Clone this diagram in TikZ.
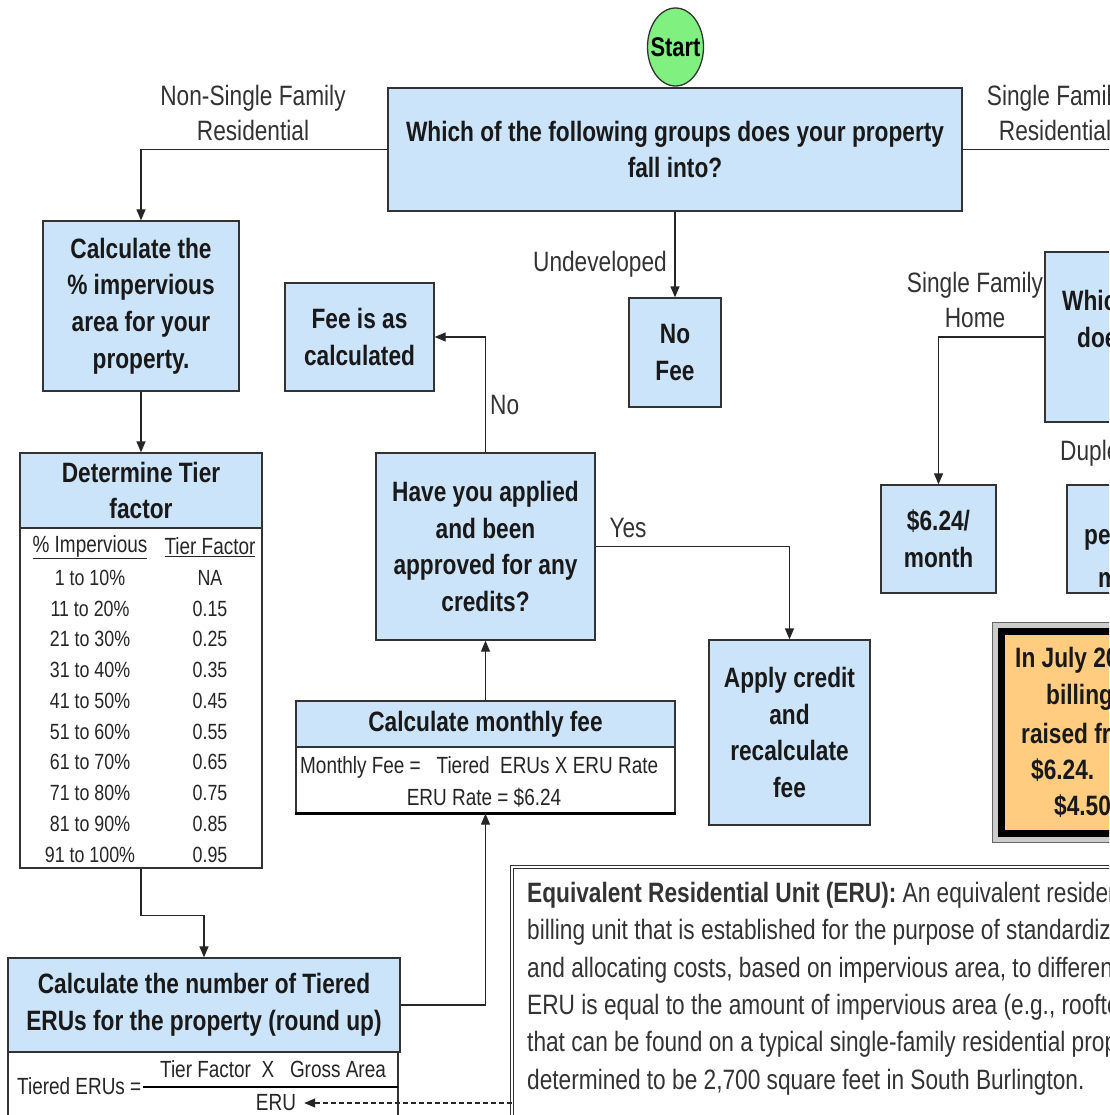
\documentclass[tikz,border=0pt]{standalone}
\usepackage{fontspec}
\setmainfont[FakeStretch=0.81]{Liberation Sans}
\usetikzlibrary{arrows.meta,shapes.geometric}
\definecolor{boxblue}{HTML}{CCE4FA}
\definecolor{startgreen}{HTML}{80F080}
\definecolor{noteorange}{HTML}{FFCC80}
\tikzset{
  box/.style={draw=black!80,line width=1.3pt,fill=boxblue,align=center,inner sep=0pt,
    font=\bfseries\fontsize{28}{36.7}\selectfont,text=black!90},
  sheet/.style={draw=black!80,line width=1.3pt,fill=white,inner sep=0pt},
  btxt/.style={font=\bfseries\fontsize{28}{36.7}\selectfont,text=black!90,inner sep=0pt,anchor=west},
  lbl/.style={font=\fontsize{28}{35}\selectfont,text=black!80,align=center,inner sep=0pt},
  small/.style={font=\fontsize{22}{26}\selectfont,text=black!85,inner sep=0pt},
  formula/.style={font=\fontsize{23.4}{26}\selectfont,text=black!85,inner sep=0pt},
  line/.style={line width=1.3pt,draw=black!85},
  arr/.style={line,-{Triangle[length=11pt,width=9pt]}},
}
\begin{document}
\begin{tikzpicture}[x=1pt,y=-1pt]
\path[use as bounding box] (0,0) rectangle (1109,1115);
\clip (0,0) rectangle (1109,1115);
\fill[white] (0,0) rectangle (1109,1115);

\node[ellipse,draw=black!80,line width=1.3pt,fill=startgreen,minimum width=56,minimum height=78,inner xsep=-9pt,inner ysep=0pt,font=\bfseries\fontsize{27}{30}\selectfont] (start) at (675.5,47) {Start};
\node[box,minimum width=574,minimum height=123] (q) at (675,149.5) {Which of the following groups does your property\\fall into?};
\node[box,minimum width=196,minimum height=170] (pct) at (141,306) {Calculate the\\\% impervious\\area for your\\property.};
\node[box,minimum width=149,minimum height=108] (fee) at (359.5,337) {Fee is as\\calculated};
\node[box,minimum width=92,minimum height=109] (nofee) at (675,352.5) {No\\Fee};
\node[box,minimum width=242,minimum height=75] (tierhead) at (141,490.5) {Determine Tier\\factor};
\node[sheet,minimum width=242,minimum height=340] (tiertab) at (141,698) {};
\node[box,minimum width=219,minimum height=187] (credits) at (485.5,546.5) {Have you applied\\and been\\approved for any\\credits?};
\node[box,minimum width=379,minimum height=46] (feehead) at (485.5,724) {Calculate monthly fee};
\node[sheet,minimum width=379,minimum height=66] (feeform) at (485.5,780) {};
\node[box,minimum width=161,minimum height=185] (apply) at (789.5,732.5) {Apply credit\\and\\recalculate\\fee};
\node[box,minimum width=392,minimum height=94] (erus) at (204,1005) {Calculate the number of Tiered\\ERUs for the property (round up)};
\node[sheet,minimum width=390,minimum height=80] (erusform) at (203,1092) {};
\node[box,minimum width=140,minimum height=170] (which) at (1115,337) {};
\node[box,minimum width=115,minimum height=108] (m624) at (938.5,539) {\$6.24/\\month};
\node[box,minimum width=140,minimum height=108] (duplex) at (1137,539) {};
\node[draw=black!60,line width=1pt,fill=black!20,minimum width=216,minimum height=220,inner sep=0pt] (noteframe) at (1100,732) {};
\node[draw=black,line width=7pt,fill=noteorange,minimum width=197,minimum height=202,inner sep=0pt] (note) at (1100,732) {};
\node[draw=black!80,line width=1pt,double=white,double distance=2.5pt,fill=white,minimum width=688,minimum height=263,inner sep=0pt] (erudef) at (856,998.5) {};

\node[btxt] (which1) at (1062,300) {Which};
\node[btxt] (which2) at (1077,337) {does};
\node[btxt] (dup1) at (1084,540) {per};
\node[btxt] (dup2) at (1098,577) {month};
\node[btxt] (note1) at (1015,660) {In July 2019};
\node[btxt] (note2) at (1046,697) {billing};
\node[btxt] (note3) at (1021,733) {raised from};
\node[btxt] (note4) at (1031,770) {\$6.24.};
\node[btxt] (note5) at (1054,806) {\$4.50};

\node[small,font=\fontsize{23.4}{26}\selectfont] (hpct) at (90,547) {\underline{\% Impervious}};
\node[small,font=\fontsize{23.4}{26}\selectfont] (htf) at (210,547) {\underline{Tier Factor}};
\foreach \p/\f [count=\i] in {1 to 10\%/NA,11 to 20\%/0.15,21 to 30\%/0.25,31 to 40\%/0.35,41 to 50\%/0.45,51 to 60\%/0.55,61 to 70\%/0.65,71 to 80\%/0.75,81 to 90\%/0.85,91 to 100\%/0.95}{
  \node[small] (pc\i) at (90,{547+30.75*\i}) {\p};
  \node[small] (tf\i) at (210,{547+30.75*\i}) {\f};
}

\node[formula,anchor=west] (mfeq) at (300,767) {Monthly Fee =\ \ \ Tiered\ \ ERUs X ERU Rate};
\node[formula] (mrate) at (484,798) {ERU Rate = \$6.24};
\draw[line width=3pt] (feeform.south west) -- (feeform.south east);

\node[formula,anchor=west] (teq) at (17,1086) {Tiered ERUs =};
\node[formula] (tnum) at (273,1069) {Tier Factor\ \ X\ \ \ Gross Area};
\node[formula] (eruden) at (276,1103) {ERU};
\draw[line width=2.5pt] (143,1087) -- (398,1087);

\node[lbl,anchor=west,align=left] (def1) at (527,895) {\textbf{Equivalent Residential Unit (ERU):} An equivalent residential unit (ERU) is a};
\node[lbl,anchor=west,align=left] (def2) at (527,932.4) {billing unit that is established for the purpose of standardizing};
\node[lbl,anchor=west,align=left] (def3) at (527,969.8) {and allocating costs, based on impervious area, to different};
\node[lbl,anchor=west,align=left] (def4) at (527,1007.2) {ERU is equal to the amount of impervious area (e.g., rooftops};
\node[lbl,anchor=west,align=left] (def5) at (527,1044.6) {that can be found on a typical single-family residential property};
\node[lbl,anchor=west,align=left] (def6) at (527,1082) {determined to be 2,700 square feet in South Burlington.};

\node[lbl] (lnsf) at (253,113) {Non-Single Family\\Residential};
\node[lbl] (lsf) at (1055,113) {Single Family\\Residential};
\node[lbl,anchor=east] (lund) at (667,264) {Undeveloped};
\node[lbl] (lsfh) at (975,300) {Single Family\\Home};
\node[lbl,anchor=west] (ldup) at (1060,453) {Duplex};
\node[lbl,anchor=west] (lno) at (490,405) {No};
\node[lbl] (lyes) at (628,528) {Yes};

\coordinate (sfr) at (1120,149.5);
\draw[line] (q.east) -- (sfr);
\draw[arr] (q.west) -| (pct.north);
\draw[arr] (q.south) -- (nofee.north);
\draw[arr] (pct.south) -- (tierhead.north);
\draw[arr] (tiertab.south) -- ++(0,47) -| (erus.north);
\draw[arr] (erus.east) -| (feeform.south);
\draw[arr] (feehead.north) -- (credits.south);
\draw[arr] (credits.north) |- (fee.east);
\draw[arr] (credits.east) -| (apply.north);
\draw[arr] (which.west) -| (m624.north);
\draw[arr,dash pattern=on 5pt off 3pt,shorten >=8pt] (eruden -| erudef.west) -- (eruden.east);
\end{tikzpicture}
\end{document}
